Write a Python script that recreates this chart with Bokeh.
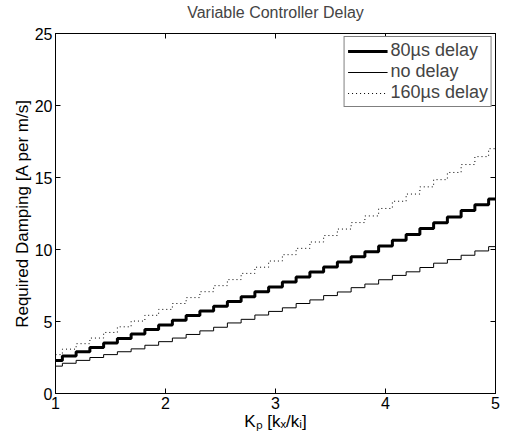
from bokeh.plotting import figure
from bokeh.models import (Range1d, LinearAxis, Legend, LegendItem, FixedTicker,
                          CustomLabelingPolicy)
from bokeh.embed import file_html
from bokeh.resources import INLINE

kp = [1.0, 1.125, 1.25, 1.375, 1.5, 1.625, 1.75, 1.875,
      2.0, 2.125, 2.25, 2.375, 2.5, 2.625, 2.75, 2.875,
      3.0, 3.125, 3.25, 3.375, 3.5, 3.625, 3.75, 3.875,
      4.0, 4.125, 4.25, 4.375, 4.5, 4.625, 4.75, 4.875, 5.0]

damp_80us = [2.30, 2.60, 2.90, 3.20, 3.51, 3.82, 4.13, 4.45,
             4.76, 5.08, 5.41, 5.73, 6.06, 6.39, 6.72, 7.06,
             7.40, 7.74, 8.09, 8.43, 8.78, 9.14, 9.49, 9.85,
             10.25, 10.65, 11.05, 11.45, 11.85, 12.25, 12.70, 13.10, 13.50]

damp_none = [1.90, 2.10, 2.30, 2.50, 2.70, 2.90, 3.10, 3.35,
             3.60, 3.85, 4.10, 4.35, 4.60, 4.90, 5.15, 5.45,
             5.70, 5.95, 6.25, 6.50, 6.80, 7.05, 7.35, 7.60,
             7.90, 8.20, 8.45, 8.75, 9.05, 9.30, 9.60, 9.90, 10.20]

damp_160us = [2.70, 3.08, 3.46, 3.85, 4.24, 4.63, 5.03, 5.43,
              5.84, 6.25, 6.66, 7.07, 7.49, 7.91, 8.34, 8.77,
              9.20, 9.64, 10.08, 10.52, 10.97, 11.42, 11.87, 12.33,
              12.85, 13.35, 13.85, 14.35, 14.85, 15.35, 15.90, 16.45, 17.00]

x_ticks = [1, 2, 3, 4, 5]
y_ticks = [0, 5, 10, 15, 20, 25]

FONT = "Liberation Sans"
FS = "16px"

p = figure(frame_width=440, frame_height=360, output_backend="svg", toolbar_location=None,
           x_range=Range1d(1, 5), y_range=Range1d(0, 25),
           title="Variable Controller Delay",
           min_border_left=55, min_border_right=0, min_border_top=0, min_border_bottom=0)
p.title.align = "center"
p.title.text_font = FONT
p.title.text_font_size = FS
p.title.text_font_style = "normal"
p.title.offset = 0
p.title.standoff = 3
p.grid.visible = False
p.outline_line_color = "black"
p.outline_line_width = 1
p.background_fill_color = "white"
p.border_fill_color = "white"

for ax in (p.xaxis[0], p.yaxis[0]):
    ax.major_tick_in = 5
    ax.major_tick_out = 0
    ax.minor_tick_line_color = None
    ax.axis_line_color = "black"
    ax.major_tick_line_color = "black"
    ax.major_label_text_font = FONT
    ax.major_label_text_font_size = FS
    ax.major_label_text_color = "black"
    ax.axis_label_text_font = FONT
    ax.axis_label_text_font_size = "17px"
    ax.axis_label_text_font_style = "normal"
    ax.axis_label_text_color = "black"
    ax.axis_label_standoff = 0
    ax.major_label_standoff = 3

p.xaxis[0].ticker = FixedTicker(ticks=x_ticks)
p.yaxis[0].ticker = FixedTicker(ticks=y_ticks)
p.xaxis[0].axis_label = "Kₚ [kₓ/kᵢ]"
p.yaxis[0].axis_label = "Required Damping [A per m/s]"

for loc, ticks in (("above", x_ticks), ("right", y_ticks)):
    mirror = LinearAxis(ticker=FixedTicker(ticks=ticks),
                        major_label_policy=CustomLabelingPolicy(code="return new Set()"),
                        major_tick_in=5, major_tick_out=0, minor_tick_line_color=None,
                        major_label_standoff=0, axis_line_color="black",
                        major_tick_line_color="black")
    p.add_layout(mirror, loc)

r80 = p.step(kp, damp_80us, mode="center", line_color="black", line_width=3)
r0 = p.step(kp, damp_none, mode="center", line_color="black", line_width=1)
r160 = p.step(kp, damp_160us, mode="center", line_color="black", line_width=1,
              line_dash="1 3")

legend = Legend(items=[LegendItem(label="80µs delay", renderers=[r80]),
                       LegendItem(label="no delay", renderers=[r0]),
                       LegendItem(label="160µs delay", renderers=[r160])],
                location="top_right", margin=3, padding=3, spacing=0,
                label_text_font=FONT, label_text_font_size="18px",
                label_height=20, glyph_height=20, glyph_width=40,
                label_standoff=3,
                border_line_color="black", border_line_width=1,
                background_fill_alpha=1)
p.add_layout(legend)

open("out.html", "w").write(file_html(p, INLINE))
